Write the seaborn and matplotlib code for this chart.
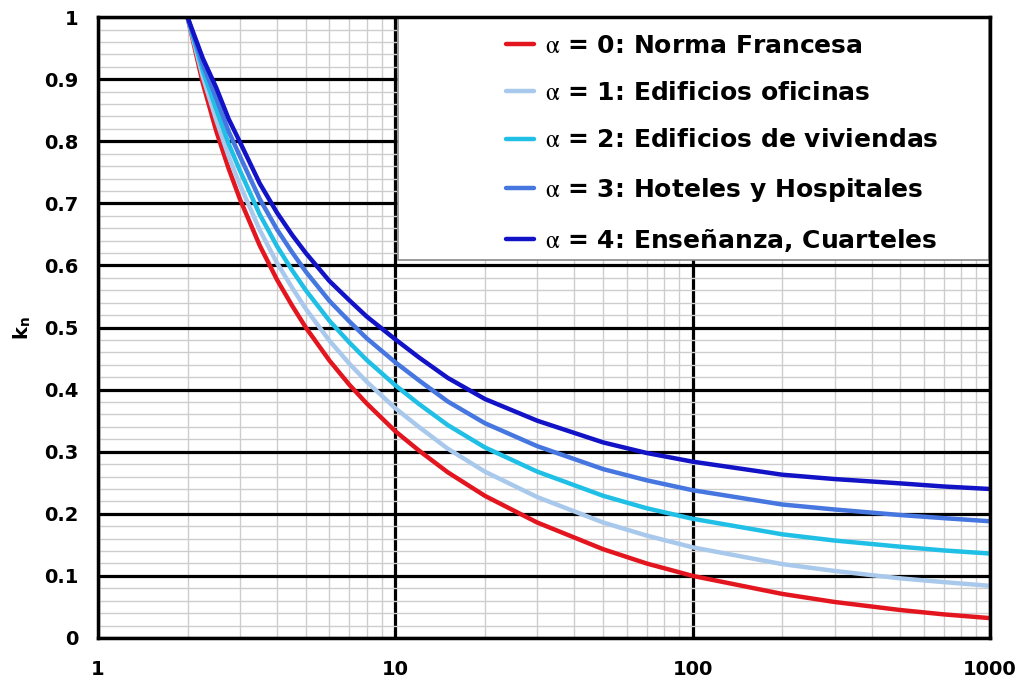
import numpy as np
import pandas as pd
import seaborn as sns
import matplotlib.pyplot as plt
from matplotlib.ticker import MultipleLocator, LogLocator, NullFormatter, FixedFormatter, FixedLocator
from matplotlib.patches import Rectangle

# numero de viviendas n
n = [2, 2.25, 2.5, 2.75, 3, 3.5, 4, 4.5, 5, 6, 7, 8, 10, 12, 15, 20, 30, 50, 70, 100, 200, 300, 500, 700, 1000]

k_a0 = [1.000, 0.894, 0.816, 0.756, 0.707, 0.632, 0.577, 0.535, 0.500, 0.447, 0.408, 0.378, 0.333, 0.302, 0.267, 0.229, 0.186, 0.143, 0.120, 0.100, 0.071, 0.058, 0.045, 0.038, 0.032]
k_a1 = [1.000, 0.904, 0.834, 0.776, 0.730, 0.657, 0.604, 0.564, 0.530, 0.479, 0.442, 0.413, 0.370, 0.340, 0.305, 0.268, 0.227, 0.186, 0.165, 0.146, 0.119, 0.108, 0.096, 0.090, 0.084]
k_a2 = [1.000, 0.914, 0.851, 0.796, 0.753, 0.682, 0.631, 0.592, 0.560, 0.511, 0.476, 0.448, 0.407, 0.377, 0.343, 0.307, 0.268, 0.229, 0.209, 0.192, 0.167, 0.157, 0.147, 0.141, 0.136]
k_a3 = [1.000, 0.924, 0.869, 0.816, 0.776, 0.707, 0.658, 0.621, 0.590, 0.543, 0.510, 0.483, 0.444, 0.415, 0.381, 0.346, 0.309, 0.272, 0.254, 0.238, 0.215, 0.207, 0.198, 0.193, 0.188]
k_a4 = [1.000, 0.934, 0.886, 0.836, 0.799, 0.732, 0.685, 0.649, 0.620, 0.575, 0.544, 0.518, 0.481, 0.452, 0.419, 0.385, 0.350, 0.315, 0.298, 0.284, 0.263, 0.256, 0.249, 0.244, 0.240]

etiquetas = ["$\\mathrm{\\alpha}$ = 0: Norma Francesa",
             "$\\mathrm{\\alpha}$ = 1: Edificios oficinas",
             "$\\mathrm{\\alpha}$ = 2: Edificios de viviendas",
             "$\\mathrm{\\alpha}$ = 3: Hoteles y Hospitales",
             "$\\mathrm{\\alpha}$ = 4: Enseñanza, Cuarteles"]
colores = ["#e3161f", "#a9c9ec", "#20bfe6", "#4676e0", "#1212c6"]

x_ticks = [1, 10, 100, 1000]
x_labels = ["1", "10", "100", "1000"]

filas = []
for lab, ks in zip(etiquetas, [k_a0, k_a1, k_a2, k_a3, k_a4]):
    for a, b in zip(n, ks):
        filas.append({"n": a, "k": b, "serie": lab})
df = pd.DataFrame(filas)

sns.set_style("white")
plt.rcParams['font.family'] = ['DejaVu Sans']
plt.rcParams['mathtext.fontset'] = 'stix'
plt.rcParams['text.color'] = 'black'
plt.rcParams['axes.labelcolor'] = 'black'
plt.rcParams['xtick.color'] = 'black'
plt.rcParams['ytick.color'] = 'black'

fig = plt.figure(figsize=(10.19, 6.86), dpi=100)
ax = fig.add_axes([0.0962, 0.07, 0.8753, 0.905])

sns.lineplot(data=df, x="n", y="k", hue="serie", hue_order=etiquetas,
             palette=colores, linewidth=3.2, ax=ax, legend=True, zorder=3)

ax.set_xscale("log")
ax.set_xlim(1, 1000)
ax.set_ylim(0, 1)

ax.xaxis.set_major_locator(FixedLocator(x_ticks))
ax.xaxis.set_major_formatter(FixedFormatter(x_labels))
ax.xaxis.set_minor_locator(LogLocator(base=10, subs=np.arange(2, 10)))
ax.xaxis.set_minor_formatter(NullFormatter())
ax.yaxis.set_major_locator(MultipleLocator(0.1))
ax.yaxis.set_minor_locator(MultipleLocator(0.02))
ax.yaxis.set_major_formatter(plt.FuncFormatter(lambda v, p: "0" if v == 0 else ("1" if v == 1 else f"{v:.1f}")))

ax.grid(which="major", color="black", linewidth=2.3)
ax.grid(which="minor", color="#cdcdcd", linewidth=1.0)
ax.set_axisbelow(True)

ax.tick_params(which="both", length=0)
ax.tick_params(axis="x", pad=16, labelsize=14)
ax.tick_params(axis="y", pad=14, labelsize=14)
for t in ax.get_xticklabels() + ax.get_yticklabels():
    t.set_fontweight("bold")

for s in ax.spines.values():
    s.set_color("black")
    s.set_linewidth(2.5)
    s.set_zorder(7)

ax.set_xlabel("")
ax.set_ylabel("k$_\\mathregular{n}$", fontsize=14, fontweight="bold", labelpad=8)

# caja de la leyenda
caja = Rectangle((0.3365, 0.609), 0.6625, 0.39, transform=ax.transAxes,
                 facecolor="white", edgecolor="#8a8a8a", linewidth=1.2, zorder=5)
ax.add_patch(caja)

handles, labels = ax.get_legend_handles_labels()
leg = ax.legend(handles, labels, loc="center", bbox_to_anchor=(0.70, 0.796),
                frameon=False, handlelength=1.1, handletextpad=0.45,
                labelspacing=0.93, prop={"weight": "bold", "size": 18})
leg.set_zorder(6)
for h in leg.get_lines():
    h.set_linewidth(3.2)

fig.savefig("out.png", dpi=100)
